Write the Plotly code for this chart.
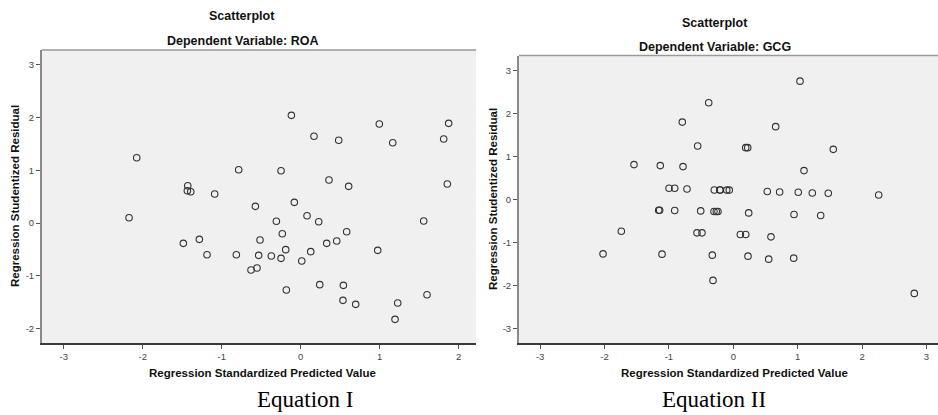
import plotly.graph_objects as go

# Equation I (Dependent Variable: ROA)
roa_pred = [-2.076, -2.173, -1.430, -1.435, -1.392, -1.089, -0.785, -0.574, -1.486, -1.283,
            -1.186, -0.815, -0.515, -0.532, -0.553, -0.629, -0.118, 0.168, 0.481, 0.995,
            1.165, 1.873, 1.810, 1.856, -0.249, 0.358, 0.607, -0.081, 0.080, 0.228,
            -0.308, 1.557, -0.233, 0.582, 0.456, 0.329, -0.190, 0.127, -0.372, -0.249,
            0.013, 0.975, -0.182, 0.241, 0.540, 0.535, 0.696, 1.228, 1.194, 1.599]
roa_resid = [1.239, 0.100, 0.708, 0.613, 0.594, 0.550, 1.012, 0.316, -0.386, -0.310,
             -0.601, -0.601, -0.323, -0.614, -0.854, -0.892, 2.043, 1.645, 1.569, 1.879,
             1.524, 1.891, 1.594, 0.740, 0.993, 0.816, 0.696, 0.392, 0.139, 0.025,
             0.032, 0.038, -0.203, -0.165, -0.342, -0.386, -0.506, -0.544, -0.626, -0.671,
             -0.721, -0.519, -1.271, -1.170, -1.183, -1.468, -1.544, -1.518, -1.828, -1.360]

# Equation II (Dependent Variable: GCG)
gcg_pred = [-0.382, -0.792, -0.553, -1.542, -1.134, -0.781, -0.998, -0.910, -0.719, -0.295,
            -0.211, -0.200, -0.102, -0.062, -1.159, -1.144, -0.910, -0.506, -0.300, -0.264,
            -0.238, -1.739, -0.564, -0.486, -2.023, -1.107, -0.326, -0.315, 1.036, 0.658,
            0.193, 0.224, 1.553, 1.098, 0.528, 0.720, 1.009, 1.227, 1.475, 2.258,
            0.239, 0.943, 1.357, 0.109, 0.193, 0.585, 0.228, 0.550, 0.938, 2.811]
gcg_resid = [2.251, 1.800, 1.244, 0.812, 0.789, 0.766, 0.262, 0.262, 0.246, 0.223,
             0.223, 0.223, 0.220, 0.220, -0.248, -0.248, -0.256, -0.264, -0.279, -0.279,
             -0.279, -0.736, -0.774, -0.774, -1.262, -1.269, -1.292, -1.879, 2.752, 1.694,
             1.206, 1.206, 1.167, 0.673, 0.186, 0.177, 0.170, 0.154, 0.146, 0.107,
             -0.310, -0.348, -0.372, -0.812, -0.812, -0.867, -1.316, -1.385, -1.362, -2.181]

left_xticks = [-3, -2, -1, 0, 1, 2]
left_yticks = [-2, -1, 0, 1, 2, 3]
right_xticks = [-3, -2, -1, 0, 1, 2, 3]
right_yticks = [-3, -2, -1, 0, 1, 2, 3]

def lbl(vals):
    return [str(v) for v in vals]

W, H = 938, 415
SANS = "Liberation Sans, Arial, sans-serif"
SERIF = "Liberation Serif, Times New Roman, serif"

marker = dict(symbol="circle-open", size=6.5, color="#333333", line=dict(width=1.1, color="#333333"))

fig = go.Figure()
fig.add_trace(go.Scatter(x=roa_pred, y=roa_resid, mode="markers", marker=marker,
                         xaxis="x", yaxis="y", showlegend=False))
fig.add_trace(go.Scatter(x=gcg_pred, y=gcg_resid, mode="markers", marker=marker,
                         xaxis="x2", yaxis="y2", showlegend=False))

tick_common = dict(showgrid=False, zeroline=False, showline=True, ticks="outside",
                   ticklen=4, tickwidth=1, tickcolor="#555555",
                   tickfont=dict(family=SANS, size=9.5, color="#444444"), tickmode="array")
xcommon = dict(linecolor="#3a3a3a", linewidth=1.5, **tick_common)
ycommon = dict(linecolor="#8a8a8a", linewidth=2, **tick_common)

def ydom(top, bottom):
    return [1 - bottom / H, 1 - top / H]

L_TOP, R_TOP, BOT = 50, 55.5, 343
fig.update_layout(
    width=W, height=H, margin=dict(l=0, r=0, t=0, b=0),
    paper_bgcolor="white", plot_bgcolor="#f0f0f0",
    xaxis=dict(domain=[42 / W, 476 / W], range=[-3.275, 2.219], tickvals=left_xticks,
               ticktext=lbl(left_xticks), anchor="y", **xcommon),
    yaxis=dict(domain=ydom(L_TOP, BOT), range=[-2.277, 3.283], tickvals=left_yticks,
               ticktext=lbl(left_yticks), anchor="x", **ycommon),
    xaxis2=dict(domain=[519 / W, 1.0], range=[-3.328, 3.179], tickvals=right_xticks,
                ticktext=lbl(right_xticks), anchor="y2", **xcommon),
    yaxis2=dict(domain=ydom(R_TOP, BOT), range=[-3.334, 3.348], tickvals=right_yticks,
                ticktext=lbl(right_yticks), anchor="x2", **ycommon),
)

# top frame lines (lighter grey)
for x0, x1, yt in [(42, 476, L_TOP), (519, 938, R_TOP)]:
    fig.add_shape(type="line", xref="paper", yref="paper", x0=x0 / W, x1=x1 / W,
                  y0=1 - yt / H, y1=1 - yt / H, line=dict(color="#999999", width=1.5))

def ann(text, x, y, size, bold=True, family=SANS, angle=0, color="#111111"):
    t = f"<b>{text}</b>" if bold else text
    fig.add_annotation(text=t, x=x / W, y=1 - y / H, xref="paper", yref="paper",
                       showarrow=False, xanchor="center", yanchor="middle",
                       textangle=angle, font=dict(family=family, size=size, color=color))

ann("Scatterplot", 242, 16, 12.5)
ann("Dependent Variable: ROA", 242, 41, 12.5)
ann("Scatterplot", 715, 23, 12.5)
ann("Dependent Variable: GCG", 715, 47, 12.5)
ann("Regression Standardized Predicted Value", 262, 373, 11.5)
ann("Regression Standardized Predicted Value", 734, 373, 11.5)
ann("Regression Studentized Residual", 15, 196, 11.5, angle=-90)
ann("Regression Studentized Residual", 493, 199, 11.5, angle=-90)
ann("Equation I", 305, 399, 23, bold=False, family=SERIF, color="#000000")
ann("Equation II", 714, 399, 23, bold=False, family=SERIF, color="#000000")

fig.write_html("out.html", config={"displayModeBar": False},
               post_script="document.body.style.margin='0';document.body.style.overflow='hidden';")
